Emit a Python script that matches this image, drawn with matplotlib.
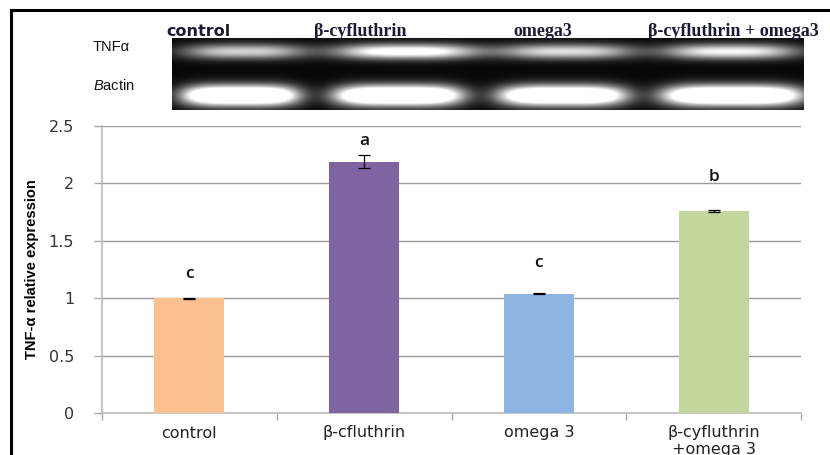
import numpy as np
import matplotlib
matplotlib.use("Agg")
import matplotlib.pyplot as plt
from matplotlib.lines import Line2D

# data
groups = ["control", "β-cfluthrin", "omega 3", "β-cyfluthrin\n+omega 3"]
expression = [1.0, 2.19, 1.04, 1.76]
errors = [0.003, 0.06, 0.005, 0.012]
letters = ["c", "a", "c", "b"]
letter_y = [1.21, 2.37, 1.31, 2.06]
bar_colors = ["#FAC090", "#8064A2", "#8EB4E3", "#C3D69B"]

gel_lanes = ["control", "β-cyfluthrin", "omega3", "β-cyfluthrin + omega3"]
tnf_band = [0.8, 1.1, 0.85, 0.95]
actin_band = [1.0, 1.0, 0.95, 1.0]

plt.rcParams["mathtext.fontset"] = "custom"
plt.rcParams["mathtext.it"] = "Liberation Sans:italic"
plt.rcParams["mathtext.rm"] = "Liberation Sans"

W, H = 830, 455
fig = plt.figure(figsize=(W / 100, H / 100), dpi=100)

def fx(px):
    return px / W

def fy(py):
    return 1 - py / H

# bar chart
ax = fig.add_axes([fx(102), fy(413), fx(801) - fx(102), fy(126) - fy(413)])
x = np.arange(len(groups))
ax.bar(x, expression, width=0.4, color=bar_colors, zorder=3)
ax.errorbar(x, expression, yerr=errors, fmt="none", ecolor="black",
            elinewidth=0.9, capsize=4, capthick=0.9, zorder=4)
for i, (lt, ly) in enumerate(zip(letters, letter_y)):
    ax.text(i, ly, lt, ha="center", va="center", fontsize=12.5,
            fontfamily="Open Sans", fontweight="semibold", color="#111111")

ax.set_xlim(-0.5, 3.5)
ax.set_ylim(0, 2.5)
ax.set_yticks(np.arange(0, 2.51, 0.5))
ax.set_yticklabels(["0", "0.5", "1", "1.5", "2", "2.5"])
ax.set_xticks(x)
ax.set_xticklabels(groups, linespacing=1.15)
ax.set_xticks(np.arange(-0.5, 3.6, 1), minor=True)
ax.tick_params(axis="x", which="major", length=0, pad=9, labelsize=11.5,
               labelcolor="#222222")
ax.tick_params(axis="x", which="minor", length=5, color="#AAAAAA", width=1)
ax.tick_params(axis="y", length=6, color="#AAAAAA", width=1, pad=14,
               labelsize=11.5, labelcolor="#333333")
for lab in ax.get_xticklabels() + ax.get_yticklabels():
    lab.set_fontfamily("DejaVu Sans")
ax.grid(axis="y", color="#9A9A9A", linewidth=1, zorder=0)
for side in ["top", "right"]:
    ax.spines[side].set_visible(False)
for side in ["left", "bottom"]:
    ax.spines[side].set_color("#BBBBBB")
    ax.spines[side].set_linewidth(1.2)
ax.set_ylabel("TNF-α relative expression", fontsize=10.5, fontweight="bold",
              family="Liberation Sans")
ax.yaxis.set_label_coords(-(63 / 699), 0.5)

# gel picture
gw, gh = 632, 72
gel = np.full((gh, gw), 0.03)
xx = np.arange(gw)[None, :]
yy = np.arange(gh)[:, None]
n = len(gel_lanes)
tnf_c = [72, 234, 394, 558]
tnf_w = [62, 72, 68, 68]
act_c = [68, 226, 390, 560]
act_w = [58, 64, 64, 70]
for i in range(n):
    hx = np.exp(-(np.abs(xx - tnf_c[i]) / tnf_w[i]) ** 3)
    vy = np.exp(-((yy - 13) / 7.5) ** 2)
    gel += tnf_band[i] * hx * vy
    hx = np.exp(-(np.abs(xx - act_c[i]) / act_w[i]) ** 4)
    vy = np.exp(-((yy - 57) / 10.0) ** 2)
    gel += 1.7 * actin_band[i] * hx * vy
gel = np.clip(gel, 0, 1)
gax = fig.add_axes([fx(172), fy(110), fx(804) - fx(172), fy(38) - fy(110)])
gax.imshow(gel, cmap="gray", vmin=0, vmax=1, aspect="auto",
           interpolation="bilinear")
gax.set_axis_off()

lane_x = [198, 360, 543, 733]
lane_font = ["DejaVu Sans", "Liberation Serif", "Liberation Serif",
             "Liberation Serif"]
lane_size = [11.5, 13, 13, 13]
for lab, lx, ff, fs in zip(gel_lanes, lane_x, lane_font, lane_size):
    fig.text(fx(lx), fy(36), lab, ha="center", va="baseline", fontsize=fs,
             family=ff, fontweight="bold", color="#1A1A33")
fig.text(fx(93), fy(47), "TNFα", ha="left", va="center", fontsize=10.5,
         family="Liberation Sans", color="#111111")
fig.text(fx(93), fy(85), r"$\it{B}$actin", ha="left", va="center",
         fontsize=10.5, family="Liberation Sans", color="#111111")

# outer frame
fig.add_artist(Line2D([fx(11), 1.0], [fy(10), fy(10)], color="black", lw=2.2))
fig.add_artist(Line2D([fx(11), fx(11)], [fy(10), 0.0], color="black", lw=2.2))

fig.savefig("out.png", dpi=100)
